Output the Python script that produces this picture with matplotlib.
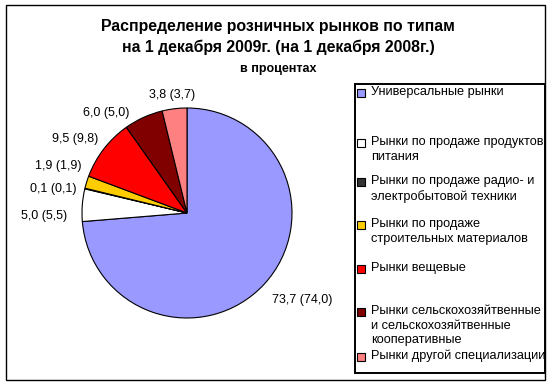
import matplotlib.pyplot as plt
from matplotlib.patches import Rectangle

plt.rcParams['font.family'] = ['Liberation Sans', 'DejaVu Sans']

categories = [
    'Универсальные рынки',
    'Рынки по продаже продуктов\nпитания',
    'Рынки по продаже радио- и\nэлектробытовой техники',
    'Рынки по продаже\nстроительных материалов',
    'Рынки вещевые',
    'Рынки сельскохозяйтвенные\nи сельскохозяйтвенные\nкооперативные',
    'Рынки другой специализации',
]
share_2009 = [73.7, 5.0, 0.1, 1.9, 9.5, 6.0, 3.8]
share_2008 = [74.0, 5.5, 0.1, 1.9, 9.8, 5.0, 3.7]

colors = ['#9999FF', '#FFFFFF', '#333333', '#FFCC00', '#FF0000', '#800000', '#FF8080']

W, H = 556, 386


def fx(x):
    return x / W


def fy(y):
    return 1 - y / H


fig = plt.figure(figsize=(W / 100, H / 100), dpi=100)

# outer chart frame
fig.patches.append(Rectangle((fx(6), fy(380)), fx(545) - fx(6), fy(5) - fy(380),
                             transform=fig.transFigure, fill=False,
                             edgecolor='black', linewidth=1.0))

# title
fig.text(fx(278), fy(26), 'Распределение розничных рынков по типам',
         ha='center', va='center', fontsize=11.4, fontweight='bold')
fig.text(fx(278), fy(47), 'на 1 декабря 2009г. (на 1 декабря 2008г.)',
         ha='center', va='center', fontsize=11.4, fontweight='bold')
fig.text(fx(278), fy(69), 'в процентах',
         ha='center', va='center', fontsize=9, fontweight='bold')

# pie, centre at (187, 213) px, radius 105 px
cx, cy, R, half = 187, 213, 105, 150
ax = fig.add_axes([fx(cx - half), fy(cy + half), 2 * half / W, 2 * half / H])
labels = [f'{a:.1f} ({b:.1f})'.replace('.', ',') for a, b in zip(share_2009, share_2008)]
wedges, texts = ax.pie(share_2009, colors=colors, labels=labels, startangle=90,
                       counterclock=False, labeldistance=1.12,
                       wedgeprops=dict(edgecolor='black', linewidth=0.8),
                       textprops=dict(fontsize=9))
lim = half / R
ax.set_xlim(-lim, lim)
ax.set_ylim(-lim, lim)
ax.axis('off')

# nudge labels apart like Excel does
shifts = [(-0.01, -0.07), (-0.026, -0.113), (0.032, -0.033), (0.07, 0.118),
          (0.04, 0.02), (-0.08, -0.07), (0.21, 0.01)]
for t, (dx, dy) in zip(texts, shifts):
    x, y = t.get_position()
    t.set_position((x + dx, y + dy))

# legend box
fig.patches.append(Rectangle((fx(355), fy(373)), fx(545) - fx(355), fy(84) - fy(373),
                             transform=fig.transFigure, fill=False,
                             edgecolor='black', linewidth=1.4))
entry_y = [93, 143, 182, 225, 269, 312, 357]
for name, col, y in zip(categories, colors, entry_y):
    fig.patches.append(Rectangle((fx(357), fy(y + 4)), 8 / W, 8 / H,
                                 transform=fig.transFigure, facecolor=col,
                                 edgecolor='black', linewidth=0.8))
    fig.text(fx(371), fy(y - 7), name, ha='left', va='top',
             fontsize=9.2, linespacing=1.3)

fig.savefig('out.png', dpi=100)
